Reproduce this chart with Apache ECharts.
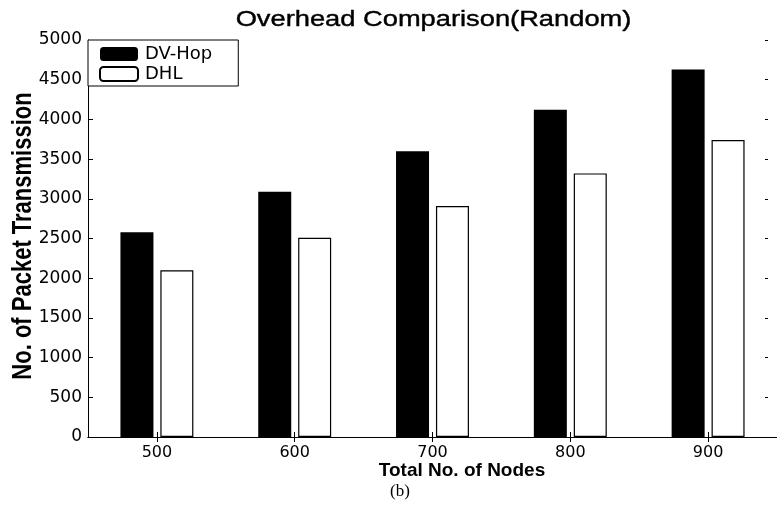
<!DOCTYPE html>
<html>
<head>
<meta charset="utf-8">
<script src="https://cdn.jsdelivr.net/npm/echarts@6/dist/echarts.min.js"></script>
<style>
  html, body { margin: 0; padding: 0; background: #fff; }
  #chart { width: 777px; height: 508px; }
</style>
</head>
<body>
<div id="chart"></div>
<script>
// Node counts on the x axis
const nodeCounts = ['500', '600', '700', '800', '900'];
// Packet transmissions per scheme
const dvHop = [2580, 3090, 3600, 4120, 4630];
const dhl = [2100, 2510, 2910, 3320, 3740];
// Y axis range
const yMin = 0;
const yMax = 5000;
const yStep = 500;

const chart = echarts.init(document.getElementById('chart'), null, { renderer: 'canvas' });

const tickFont = 'DejaVu Sans';

chart.setOption({
  animation: false,
  backgroundColor: '#ffffff',
  grid: { left: 88, top: 40, right: -6, bottom: 71, containLabel: false },
  legend: {
    orient: 'vertical',
    left: 88,
    top: 40,
    padding: [5, 26, 3, 11],
    itemGap: 2,
    itemWidth: 38,
    itemHeight: 14,
    backgroundColor: '#ffffff',
    borderColor: '#000',
    borderWidth: 1,
    borderRadius: 0,
    icon: 'roundRect',
    textStyle: { fontFamily: tickFont, fontSize: 18, color: '#000', padding: [0, 0, 0, 2] },
    data: ['DV-Hop', 'DHL']
  },
  xAxis: [
    {
      type: 'category',
      data: nodeCounts,
      position: 'bottom',
      boundaryGap: true,
      axisLine: { show: true, lineStyle: { color: '#000', width: 1 } },
      axisTick: { show: true, inside: true, alignWithLabel: true, length: 5, lineStyle: { color: '#000' } },
      axisLabel: { fontFamily: tickFont, fontSize: 16, color: '#000', margin: 8 },
      splitLine: { show: false }
    },
    {
      type: 'category',
      data: nodeCounts,
      position: 'top',
      boundaryGap: true,
      axisLine: { show: true, lineStyle: { color: '#000', width: 1 } },
      axisTick: { show: true, inside: true, alignWithLabel: true, length: 5, lineStyle: { color: '#000' } },
      axisLabel: { show: false },
      splitLine: { show: false }
    }
  ],
  yAxis: [
    {
      type: 'value',
      min: yMin,
      max: yMax,
      interval: yStep,
      position: 'left',
      axisLine: { show: true, lineStyle: { color: '#000', width: 1 } },
      axisTick: { show: true, inside: true, length: 5, lineStyle: { color: '#000' } },
      axisLabel: {
        fontFamily: tickFont,
        fontSize: 17,
        color: '#000',
        margin: 6,
        formatter: (v) => String(v)
      },
      splitLine: { show: false }
    },
    {
      type: 'value',
      min: yMin,
      max: yMax,
      interval: yStep,
      position: 'right',
      offset: -9,
      axisLine: { show: false },
      axisTick: { show: true, inside: true, length: 3, lineStyle: { color: '#000' } },
      axisLabel: { show: false },
      splitLine: { show: false }
    }
  ],
  series: [
    {
      name: 'DV-Hop',
      type: 'bar',
      xAxisIndex: 0,
      yAxisIndex: 0,
      data: dvHop,
      barWidth: 33,
      barGap: '21%',
      itemStyle: { color: '#000', borderColor: '#000', borderWidth: 0 }
    },
    {
      name: 'DHL',
      type: 'bar',
      xAxisIndex: 0,
      yAxisIndex: 0,
      data: dhl,
      barWidth: 33,
      barGap: '21%',
      itemStyle: { color: '#ffffff', borderColor: '#000', borderWidth: 1.2 }
    }
  ],
  graphic: [
    {
      type: 'text',
      x: 433.5,
      y: 20,
      scaleX: 1.24,
      style: {
        text: 'Overhead Comparison(Random)',
        fontFamily: 'Liberation Sans',
        fontSize: 22,
        fill: '#000',
        stroke: '#000',
        lineWidth: 0.4,
        align: 'center',
        verticalAlign: 'middle'
      }
    },
    {
      type: 'text',
      x: 23,
      y: 236,
      rotation: Math.PI / 2,
      scaleY: 1.25,
      style: {
        text: 'No. of Packet Transmission',
        fontFamily: 'Liberation Sans',
        fontWeight: 'bold',
        fontSize: 22,
        fill: '#000',
        align: 'center',
        verticalAlign: 'middle'
      }
    },
    {
      type: 'text',
      x: 462,
      y: 471,
      style: {
        text: 'Total No. of Nodes',
        fontFamily: 'Liberation Sans',
        fontWeight: 'bold',
        fontSize: 19,
        fill: '#000',
        align: 'center',
        verticalAlign: 'middle'
      }
    },
    {
      type: 'text',
      x: 400,
      y: 492,
      style: {
        text: '(b)',
        fontFamily: 'Liberation Serif',
        fontSize: 17,
        fill: '#000',
        align: 'center',
        verticalAlign: 'middle'
      }
    }
  ]
});
</script>
</body>
</html>
